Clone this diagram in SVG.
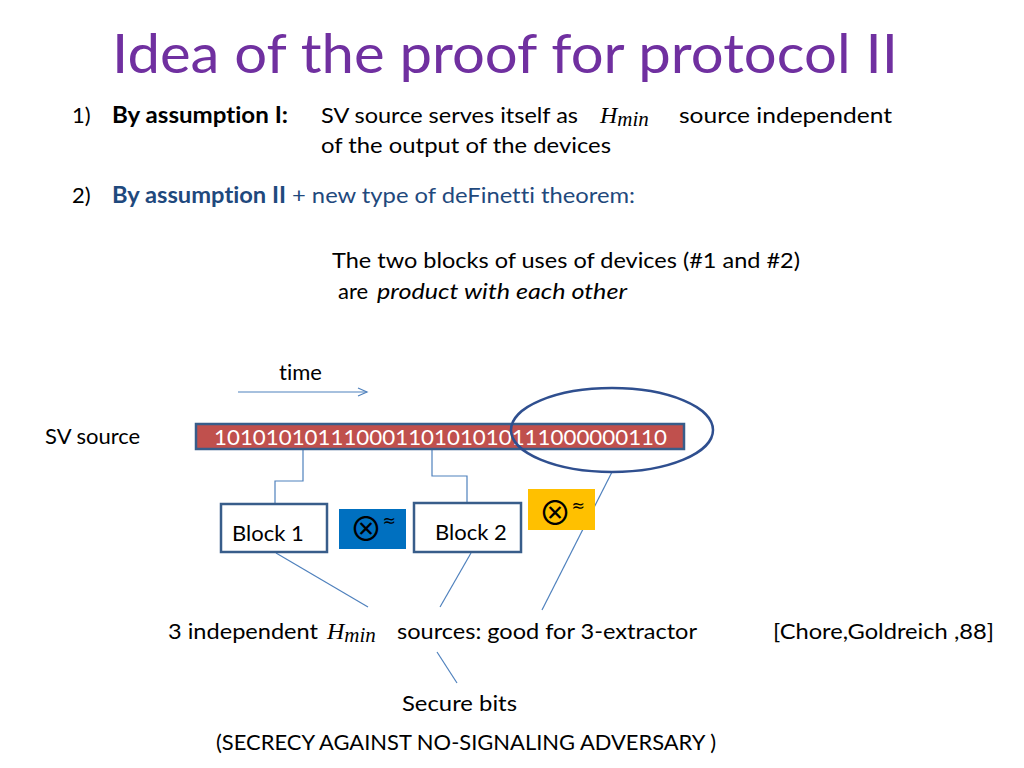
<svg xmlns="http://www.w3.org/2000/svg" width="1024" height="768" viewBox="0 0 1024 768">
<style>
text{font-family:Lato,"Open Sans","Liberation Sans",sans-serif;fill:#000;font-size:22px;font-variant-ligatures:none}
.title{fill:#7030A0;font-size:54px}
.b{font-weight:bold}
.navy{fill:#1F497D}
.hm{font-family:"Liberation Serif",serif;font-style:italic;font-size:24px}
.conn{stroke:#4F81BD;stroke-width:1.2;fill:none}
.box{fill:#fff;stroke:#385D8A;stroke-width:2.5}
.sym{font-family:"Noto Sans CJK JP","DejaVu Sans",sans-serif;font-size:33px}
.ap{font-family:"DejaVu Sans",sans-serif;font-size:16px}
</style>
<defs>
<marker id="arr" markerWidth="12" markerHeight="10" refX="10" refY="5" orient="auto" markerUnits="userSpaceOnUse">
<path d="M1,1 L10,5 L1,9" fill="none" stroke="#4F81BD" stroke-width="1.2"/>
</marker>
</defs>
<text class="title" x="112" y="73" textLength="786" lengthAdjust="spacingAndGlyphs">Idea of the proof for protocol II</text>

<text x="72" y="123">1)</text>
<text class="b" x="112" y="123" textLength="176" lengthAdjust="spacingAndGlyphs">By assumption I:</text>
<text x="321" y="123" textLength="257" lengthAdjust="spacingAndGlyphs">SV source serves itself as</text>
<text class="hm" x="600" y="123">H<tspan font-size="21" dy="3">min</tspan></text>
<text x="679" y="123" textLength="213" lengthAdjust="spacingAndGlyphs">source  independent</text>
<text x="321" y="153" textLength="290" lengthAdjust="spacingAndGlyphs">of the output of the devices</text>

<text x="72" y="203">2)</text>
<text class="b navy" x="112" y="203" textLength="174" lengthAdjust="spacingAndGlyphs">By assumption II</text>
<text class="navy" x="292" y="203" textLength="343" lengthAdjust="spacingAndGlyphs">+ new type of deFinetti theorem:</text>

<text x="332" y="268" textLength="468" lengthAdjust="spacingAndGlyphs">The two blocks of uses of devices (#1 and #2)</text>
<text x="338" y="299">are</text>
<text x="377" y="299" font-style="italic" textLength="250" lengthAdjust="spacingAndGlyphs">product with each other</text>

<text x="279" y="380">time</text>
<text x="45" y="444">SV source</text>

<g id="connectors">
<line class="conn" x1="238" y1="392" x2="367" y2="392" marker-end="url(#arr)"/>
<polyline class="conn" points="303,450 303,481 275,481 275,503"/>
<polyline class="conn" points="432,450 432,476 467,476 467,503"/>
<line class="conn" x1="276" y1="553" x2="368" y2="607"/>
<line class="conn" x1="471" y1="553" x2="440" y2="607"/>
<line class="conn" x1="612" y1="472" x2="542" y2="610"/>
<line class="conn" x1="437" y1="652" x2="457" y2="683"/>
</g>

<g id="sv-bar">
<rect x="196" y="424" width="488" height="25" fill="#C0504D" stroke="#385D8A" stroke-width="2.5"/>
<text x="214" y="445" style="fill:#fff" font-size="23" textLength="453" lengthAdjust="spacingAndGlyphs">10101010111000110101010111000000110</text>
</g>
<g id="ellipse">
<ellipse cx="612" cy="430" rx="101" ry="42" fill="none" stroke="#2F4F8F" stroke-width="2.5"/>
</g>

<g id="block1">
<rect class="box" x="221" y="504" width="106" height="48"/>
<text x="232" y="541">Block 1</text>
</g>
<g id="prod1">
<rect x="339" y="509" width="67" height="40" fill="#0070C0"/>
<text x="349.5" y="541"><tspan class="sym">⊗</tspan><tspan class="ap" dy="-15">≈</tspan></text>
</g>
<g id="block2">
<rect class="box" x="414" y="503" width="107" height="49"/>
<text x="435" y="540">Block 2</text>
</g>
<g id="prod2">
<rect x="528" y="489" width="67" height="41" fill="#FFC000"/>
<text x="538.5" y="525"><tspan class="sym">⊗</tspan><tspan class="ap" dy="-14">≈</tspan></text>
</g>

<text x="168" y="639" textLength="150" lengthAdjust="spacingAndGlyphs">3 independent</text>
<text class="hm" x="327" y="639">H<tspan font-size="21" dy="3">min</tspan></text>
<text x="397" y="639" textLength="300" lengthAdjust="spacingAndGlyphs">sources: good for 3-extractor</text>
<text x="773" y="639" textLength="221" lengthAdjust="spacingAndGlyphs">[Chore,Goldreich ,88]</text>
<text x="402" y="711" textLength="115" lengthAdjust="spacingAndGlyphs">Secure bits</text>
<text x="216" y="750" textLength="500" lengthAdjust="spacingAndGlyphs">(SECRECY AGAINST NO-SIGNALING ADVERSARY )</text>
</svg>
